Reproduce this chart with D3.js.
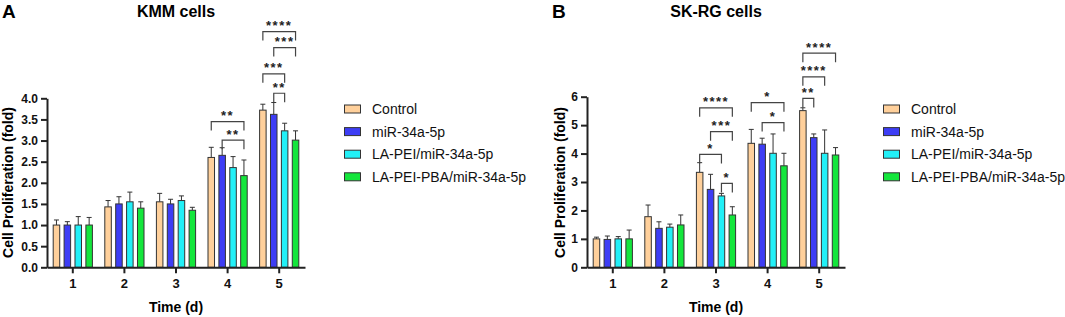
<!DOCTYPE html>
<html>
<head>
<meta charset="utf-8">
<script src="https://cdn.jsdelivr.net/npm/d3@7"></script>
<style>
  body { margin: 0; background: #fff; }
  svg { display: block; font-family: "Liberation Sans", Arial, sans-serif; }
  .axis path, .axis line { stroke: #222; stroke-width: 2; }
  .axis text { font-size: 12px; font-weight: bold; fill: #111; }
</style>
</head>
<body>
<div id="chart"></div>
<script>
var days = ["1", "2", "3", "4", "5"];
var groups = ["Control", "miR-34a-5p", "LA-PEI/miR-34a-5p", "LA-PEI-PBA/miR-34a-5p"];
var colors = ["#ffd09b", "#3d3df5", "#22f0f7", "#14e63c"];

// KMM cells: mean per group (rows) by day (cols), and upper error
var kmmMean = [
    [1.00, 1.43, 1.55, 2.60, 3.72],
    [1.00, 1.50, 1.50, 2.65, 3.62],
    [1.00, 1.55, 1.58, 2.36, 3.23],
    [1.00, 1.40, 1.35, 2.17, 3.01]
];
var kmmErr = [
    [1.12, 1.58, 1.75, 2.84, 3.86],
    [1.08, 1.67, 1.61, 2.83, 3.90],
    [1.20, 1.78, 1.69, 2.62, 3.41],
    [1.18, 1.55, 1.42, 2.54, 3.23]
];
var kmmTicks = [0, 0.5, 1, 1.5, 2, 2.5, 3, 3.5, 4];
// [day, from group, to group, height, label]
var kmmSig = [
    ["4", 0, 3, 3.45, "**"],
    ["4", 1, 3, 3.01, "**"],
    ["5", 1, 2, 4.12, "**"],
    ["5", 0, 2, 4.58, "***"],
    ["5", 1, 3, 5.20, "***"],
    ["5", 0, 3, 5.58, "****"]
];

// SK-RG cells
var skrgMean = [
    [1.00, 1.78, 3.34, 4.36, 5.51],
    [0.98, 1.37, 2.74, 4.33, 4.56],
    [1.00, 1.41, 2.51, 4.01, 4.01],
    [1.00, 1.49, 1.84, 3.57, 3.95]
];
var skrgErr = [
    [1.06, 2.19, 3.68, 4.85, 5.61],
    [1.10, 1.60, 3.27, 4.54, 4.69],
    [1.08, 1.52, 2.60, 4.69, 4.83],
    [1.31, 1.84, 2.13, 4.01, 4.21]
];
var skrgTicks = [0, 1, 2, 3, 4, 5, 6];
var skrgSig = [
    ["3", 0, 3, 5.61, "****"],
    ["3", 1, 3, 4.77, "***"],
    ["3", 0, 2, 3.97, "*"],
    ["3", 2, 3, 2.95, "*"],
    ["4", 0, 3, 5.79, "*"],
    ["4", 1, 3, 5.09, "*"],
    ["5", 0, 1, 5.94, "**"],
    ["5", 0, 2, 6.70, "****"],
    ["5", 0, 3, 7.53, "****"]
];

var svg = d3.select("#chart").append("svg")
    .attr("width", 1065)
    .attr("height", 317);

function drawPanel(opt) {
    var g = svg.append("g");
    var x = d3.scaleBand().domain(days).range([opt.left, opt.left + 258]).padding(0);
    var xi = d3.scaleBand().domain(d3.range(groups.length)).range([-20.1, 20.1]).paddingInner(0.31);
    var y = d3.scaleLinear().domain([0, opt.yMax]).range([267.3, opt.top]);

    // bars
    opt.mean.forEach(function(row, gi) {
        row.forEach(function(v, di) {
            var cx = x(days[di]) + x.bandwidth() / 2;
            var bx = cx + xi(gi);
            // error bar (up only)
            var ex = bx + xi.bandwidth() / 2;
            g.append("line")
                .attr("x1", ex).attr("x2", ex)
                .attr("y1", y(v)).attr("y2", y(opt.err[gi][di]))
                .attr("stroke", "#333").attr("stroke-width", 1);
            g.append("line")
                .attr("x1", ex - 2.5).attr("x2", ex + 2.5)
                .attr("y1", y(opt.err[gi][di])).attr("y2", y(opt.err[gi][di]))
                .attr("stroke", "#333").attr("stroke-width", 1);
            g.append("rect")
                .attr("x", bx + 0.5)
                .attr("y", y(v))
                .attr("width", xi.bandwidth() - 1)
                .attr("height", y(0) - y(v))
                .attr("fill", colors[gi])
                .attr("stroke", "#333")
                .attr("stroke-width", 1);
        });
    });

    // significance brackets
    opt.sig.forEach(function(s) {
        var cx = x(s[0]) + x.bandwidth() / 2;
        var x1 = cx + xi(s[1]) + xi.bandwidth() / 2;
        var x2 = cx + xi(s[2]) + xi.bandwidth() / 2;
        var yy = y(s[3]);
        g.append("path")
            .attr("d", "M" + x1 + "," + (yy + 9) + "V" + yy + "H" + x2 + "V" + (yy + 9))
            .attr("fill", "none")
            .attr("stroke", "#444")
            .attr("stroke-width", 1.2);
        g.append("text")
            .attr("x", (x1 + x2) / 2)
            .attr("y", yy - 1.5)
            .attr("text-anchor", "middle")
            .style("font-size", "13px")
            .style("font-weight", "bold")
            .style("letter-spacing", "1.5px")
            .style("fill", "#222")
            .text(s[4]);
    });

    // axes
    g.append("g")
        .attr("class", "axis")
        .attr("transform", "translate(" + opt.left + ",0)")
        .call(d3.axisLeft(y).tickValues(opt.ticks).tickSize(6).tickSizeOuter(0).tickPadding(3)
            .tickFormat(opt.fmt));
    g.append("g")
        .attr("class", "axis")
        .attr("transform", "translate(0," + y(0) + ")")
        .call(d3.axisBottom(x).tickSize(6).tickSizeOuter(0).tickPadding(5))
        .selectAll("text").style("font-size", "13px");

    // titles
    g.append("text")
        .attr("x", opt.left + 129).attr("y", 16.7)
        .attr("text-anchor", "middle")
        .style("font-size", "16px").style("font-weight", "bold")
        .text(opt.title);
    g.append("text")
        .attr("x", opt.letterX).attr("y", 17.5)
        .style("font-size", "19px").style("font-weight", "bold")
        .text(opt.letter);
    g.append("text")
        .attr("x", opt.left + 129).attr("y", 311.7)
        .attr("text-anchor", "middle")
        .style("font-size", "14px").style("font-weight", "bold")
        .text("Time (d)");
    g.append("text")
        .attr("transform", "translate(" + opt.yLabelX + ",182.5) rotate(-90)")
        .attr("text-anchor", "middle")
        .style("font-size", "14px").style("font-weight", "bold")
        .text("Cell Proliferation (fold)");

    // legend
    var leg = g.append("g").attr("transform", "translate(" + opt.legendX + ",109)");
    groups.forEach(function(name, i) {
        leg.append("rect")
            .attr("x", 0.5).attr("y", i * 22.6 - 4)
            .attr("width", 16).attr("height", 8)
            .attr("fill", colors[i])
            .attr("stroke", "#333").attr("stroke-width", 1);
        leg.append("text")
            .attr("x", 28).attr("y", i * 22.6 + 5)
            .style("font-size", "14px")
            .style("fill", "#111")
            .text(name);
    });
}

drawPanel({
    left: 47, top: 98.3, yMax: 4,
    mean: kmmMean, err: kmmErr, sig: kmmSig, ticks: kmmTicks,
    fmt: d3.format(".1f"),
    title: "KMM cells", letter: "A", letterX: 2,
    yLabelX: 12.5, legendX: 344
});
drawPanel({
    left: 587, top: 96.7, yMax: 6,
    mean: skrgMean, err: skrgErr, sig: skrgSig, ticks: skrgTicks,
    fmt: d3.format("d"),
    title: "SK-RG cells", letter: "B", letterX: 552,
    yLabelX: 565, legendX: 883
});
</script>
</body>
</html>
